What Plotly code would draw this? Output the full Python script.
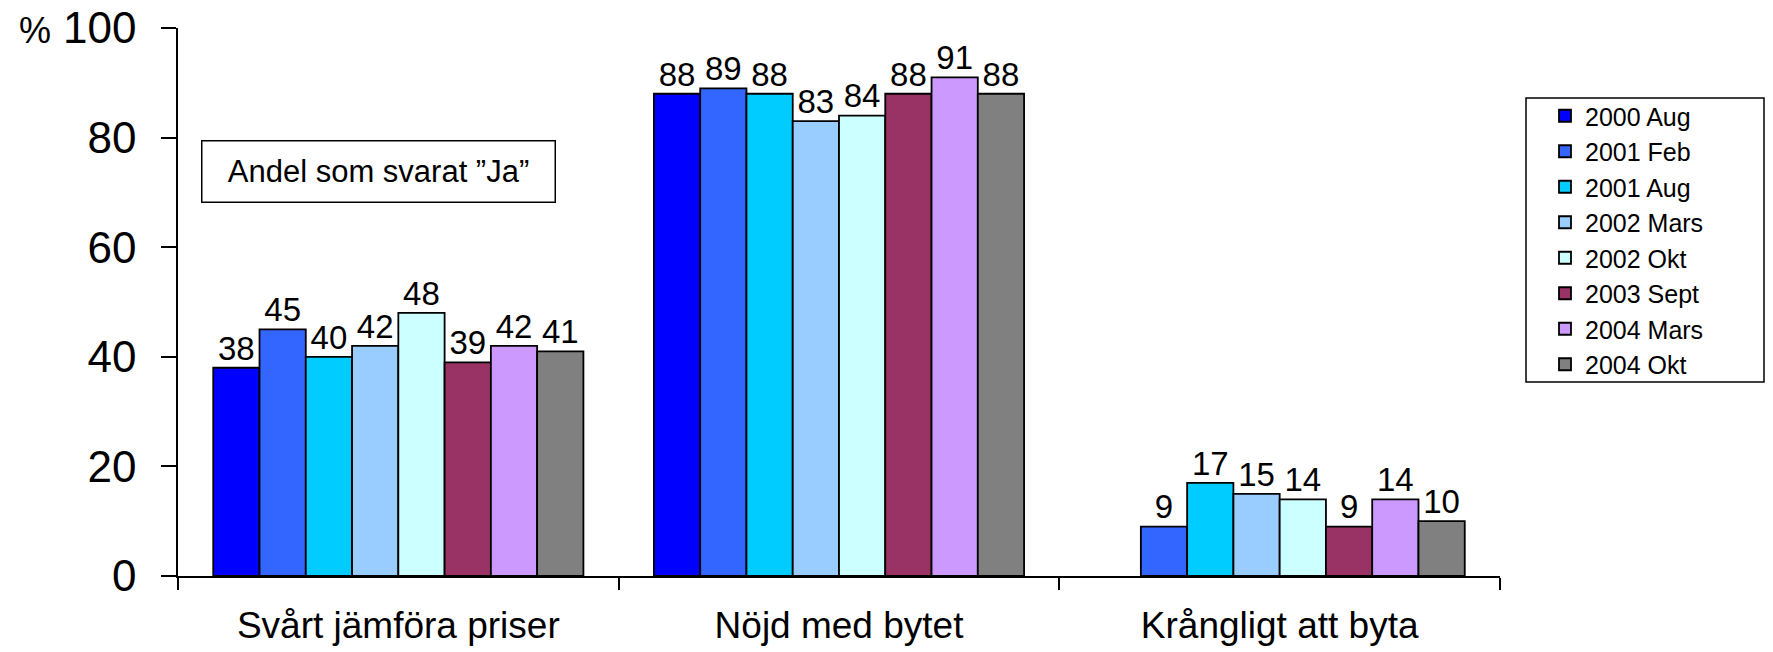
import plotly.graph_objects as go

categories = ["Svårt jämföra priser", "Nöjd med bytet", "Krångligt att byta"]
series_names = ["2000 Aug", "2001 Feb", "2001 Aug", "2002 Mars", "2002 Okt",
                "2003 Sept", "2004 Mars", "2004 Okt"]
s2000_aug = [38, 88, None]
s2001_feb = [45, 89, 9]
s2001_aug = [40, 88, 17]
s2002_mars = [42, 83, 15]
s2002_okt = [48, 84, 14]
s2003_sept = [39, 88, 9]
s2004_mars = [42, 91, 14]
s2004_okt = [41, 88, 10]
series_values = [s2000_aug, s2001_feb, s2001_aug, s2002_mars, s2002_okt,
                 s2003_sept, s2004_mars, s2004_okt]
colors = ["#0000FF", "#3366FF", "#00CCFF", "#99CCFF", "#CCFFFF",
          "#993366", "#CC99FF", "#808080"]
y_ticks = [0, 20, 40, 60, 80, 100]

FONT = "Liberation Sans, Arial, sans-serif"

fig = go.Figure()
for name, vals, col in zip(series_names, series_values, colors):
    fig.add_trace(go.Bar(
        name=name, x=categories, y=vals, offsetgroup=name,
        marker=dict(color=col, line=dict(color="black", width=1.8)),
        hoverinfo="x+y+name",
    ))
# value labels, placed a little above each bar (grouped like the bars)
for name, vals in zip(series_names, series_values):
    fig.add_trace(go.Scatter(
        x=categories, y=vals, offsetgroup=name, mode="text",
        text=[("" if v is None else str(v)) for v in vals],
        textposition="top center", showlegend=False, hoverinfo="skip",
        marker=dict(size=28), cliponaxis=False,
        textfont=dict(family=FONT, size=33, color="black"),
    ))

W, H = 1773, 652
X0s, X1s, Y0s, Y1s = 178, 1500, 28, 576   # plot area in pixels
L, T = X0s, Y0s
R, B = W - X1s, H - Y1s
pw, ph = W - L - R, H - T - B

def px(xs):
    return (xs - L) / pw

def py(ys):
    return (H - B - ys) / ph

fig.update_layout(
    width=W, height=H,
    margin=dict(l=L, r=R, t=T, b=B, pad=0),
    paper_bgcolor="white", plot_bgcolor="white",
    barmode="group", bargap=0.16, bargroupgap=0,
    scattermode="group", scattergap=0.16,
    font=dict(family=FONT, color="black"),
    showlegend=True,
    legend=dict(
        x=px(1545), xanchor="left", y=py(240), yanchor="middle",
        font=dict(family=FONT, size=25, color="black"),
        bgcolor="rgba(0,0,0,0)", borderwidth=0,
        traceorder="normal", itemclick=False,
    ),
    xaxis=dict(
        showline=True, linecolor="black", linewidth=1.5,
        ticks="outside", tickson="boundaries", ticklen=12, tickwidth=1.5,
        tickcolor="black", showgrid=False, automargin=False,
        tickfont=dict(family=FONT, size=37, color="black"),
        ticklabelstandoff=16,
    ),
    yaxis=dict(
        range=[0, 100], tickvals=y_ticks, showline=True, linecolor="black",
        linewidth=1.5, ticks="outside", ticklen=15, tickwidth=1.5,
        tickcolor="black", showgrid=False, zeroline=False, automargin=False,
        tickfont=dict(family=FONT, size=44, color="black"),
        ticklabelstandoff=16, ticklabeloverflow="allow",
    ),
    shapes=[dict(
        type="rect", xref="paper", yref="paper",
        x0=px(1526), x1=px(1764), y0=py(382), y1=py(98),
        line=dict(color="black", width=1.5), fillcolor="rgba(0,0,0,0)",
    )],
    annotations=[
        dict(text="Andel som svarat ”Ja”", xref="paper", yref="paper",
             x=px(378), y=py(171), xanchor="center", yanchor="middle",
             showarrow=False, font=dict(family=FONT, size=31, color="black"),
             bordercolor="black", borderwidth=1.5, borderpad=9,
             width=334, height=42, bgcolor="white"),
        dict(text="%", xref="paper", yref="paper",
             x=px(35), y=py(30), xanchor="center", yanchor="middle",
             showarrow=False, font=dict(family=FONT, size=36, color="black")),
    ],
)

fig.write_html("out.html",
               config=dict(displayModeBar=False),
               post_script="document.body.style.margin='0';"
                           "document.body.style.overflow='hidden';")
